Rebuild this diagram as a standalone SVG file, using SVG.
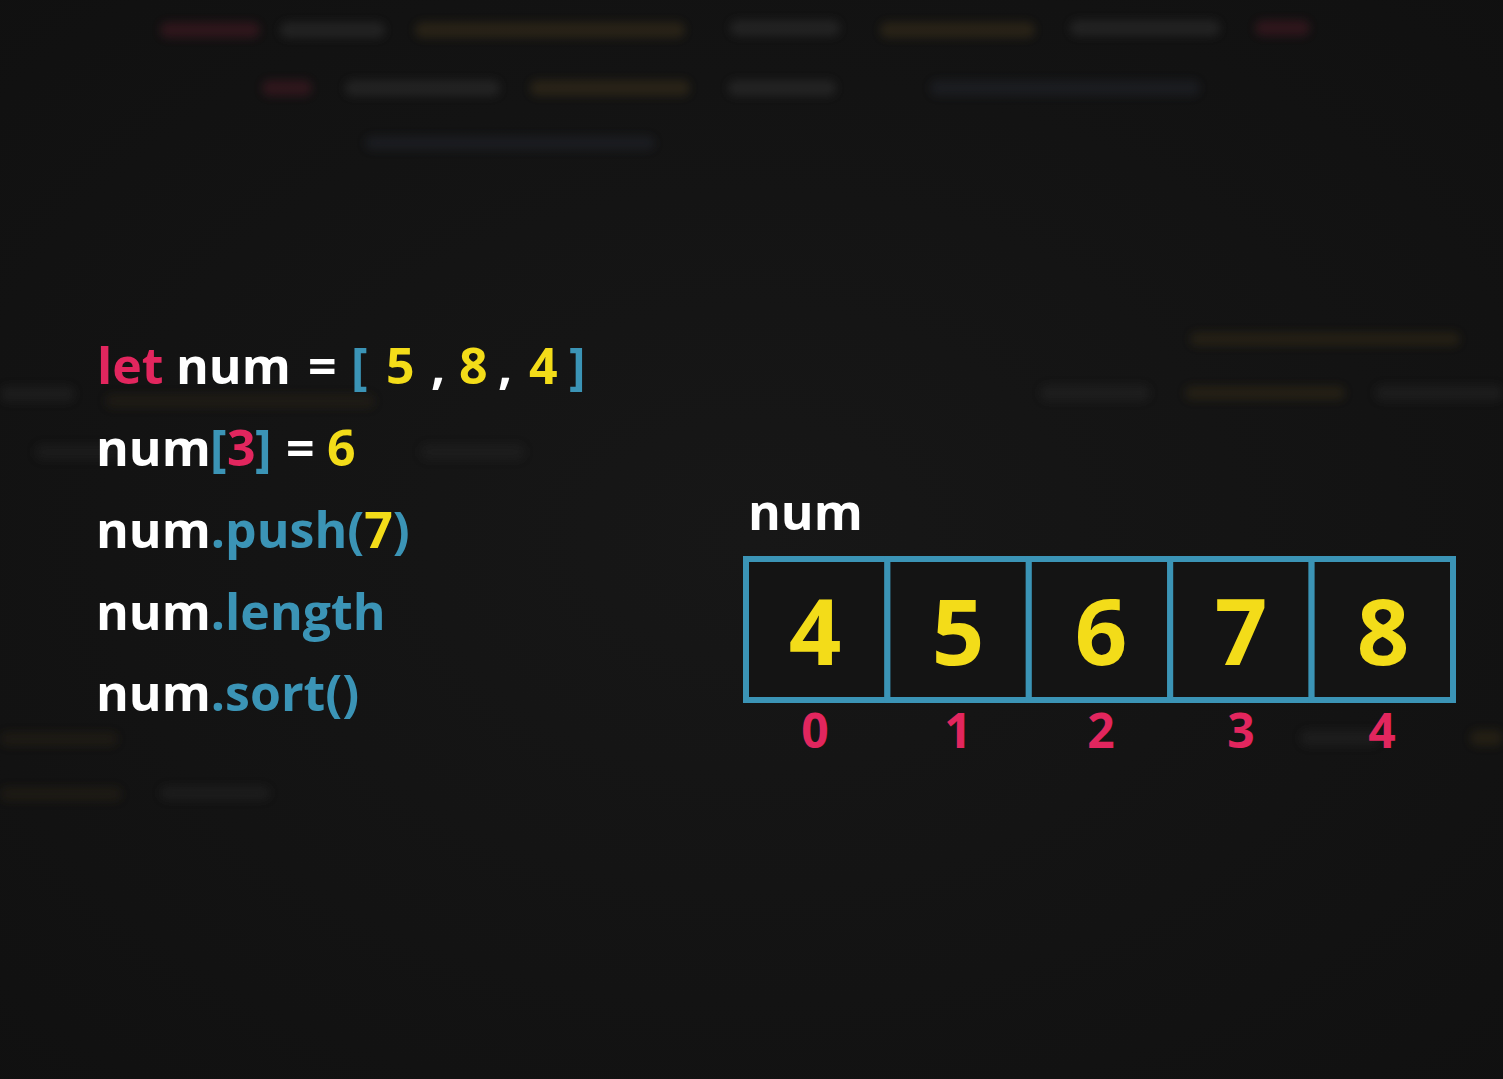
<svg xmlns="http://www.w3.org/2000/svg" width="1503" height="1079" viewBox="0 0 1503 1079">
<defs>
<style>
.code{font-family:"Open Sans","Noto Sans","Liberation Sans",sans-serif;font-weight:700;font-size:50px}
.w{fill:#ffffff}.r{fill:#e2265e}.y{fill:#f3dc19}.b{fill:#3b94b6}
.cell{fill:#141414;stroke:#3b94b6;stroke-width:6}
.val{font-family:"Open Sans","Noto Sans","Liberation Sans",sans-serif;font-weight:700;font-size:92px;fill:#f3dc19;text-anchor:middle}
.idx{font-family:"Open Sans","Noto Sans","Liberation Sans",sans-serif;font-weight:700;font-size:48px;fill:#e2265e;text-anchor:middle}
.bg rect{rx:8px}
</style>
<filter id="blur" x="-20%" y="-100%" width="140%" height="300%"><feGaussianBlur stdDeviation="4"/></filter>
<radialGradient id="vig" cx="50%" cy="50%" r="75%">
<stop offset="0" stop-color="#171717"/><stop offset="1" stop-color="#101010"/>
</radialGradient>
</defs>
<rect width="1503" height="1079" fill="url(#vig)"/>
<g class="bg" filter="url(#blur)" opacity="0.4">
<rect x="160" y="22" width="100" height="16" fill="#5a1f2c"/>
<rect x="280" y="22" width="105" height="16" fill="#3a3a3a"/>
<rect x="415" y="22" width="270" height="16" fill="#4a3a1c"/>
<rect x="730" y="20" width="110" height="16" fill="#3a3a3a"/>
<rect x="880" y="22" width="155" height="16" fill="#4a3a1c"/>
<rect x="1070" y="20" width="150" height="16" fill="#3a3a3a"/>
<rect x="1255" y="20" width="55" height="16" fill="#5a1f2c"/>
<rect x="262" y="80" width="50" height="16" fill="#5a1f2c"/>
<rect x="345" y="80" width="155" height="16" fill="#3a3a3a"/>
<rect x="530" y="80" width="160" height="16" fill="#4a3a1c"/>
<rect x="728" y="80" width="108" height="16" fill="#3a3a3a"/>
<rect x="930" y="80" width="270" height="16" fill="#262a36"/>
<rect x="365" y="136" width="290" height="14" fill="#262a36"/>
<rect x="1190" y="332" width="270" height="14" fill="#3e3218"/>
<rect x="1040" y="385" width="110" height="16" fill="#2a2a2a"/>
<rect x="1185" y="386" width="160" height="14" fill="#3e3218"/>
<rect x="1375" y="385" width="128" height="16" fill="#2a2a2a"/>
<rect x="0" y="386" width="75" height="16" fill="#2a2a2a"/>
<rect x="105" y="394" width="270" height="14" fill="#2e2616"/>
<rect x="35" y="444" width="85" height="16" fill="#262626"/>
<rect x="420" y="444" width="105" height="16" fill="#262626"/>
<rect x="1300" y="730" width="80" height="16" fill="#2a2a2a"/>
<rect x="1470" y="730" width="33" height="16" fill="#3e3218"/>
<rect x="0" y="732" width="118" height="14" fill="#2e2616"/>
<rect x="0" y="787" width="122" height="14" fill="#2e2616"/>
<rect x="160" y="786" width="110" height="14" fill="#2a2a2a"/>
</g>
<g id="code">
<text class="code" y="384"><tspan class="r" x="97">let</tspan><tspan class="w" x="176">num</tspan><tspan class="w" x="308">=</tspan><tspan class="b" x="351">[</tspan><tspan class="y" x="386">5</tspan><tspan class="w" x="431">,</tspan><tspan class="y" x="459">8</tspan><tspan class="w" x="498">,</tspan><tspan class="y" x="529">4</tspan><tspan class="b" x="569">]</tspan></text>
<text class="code" y="466"><tspan class="w" x="96">num</tspan><tspan class="b" x="210">[</tspan><tspan class="r" x="227">3</tspan><tspan class="b" x="255">]</tspan><tspan class="w" x="286">=</tspan><tspan class="y" x="327">6</tspan></text>
<text class="code" x="96" y="548"><tspan class="w">num</tspan><tspan class="b">.push(</tspan><tspan class="y">7</tspan><tspan class="b">)</tspan></text>
<text class="code" x="96" y="630"><tspan class="w">num</tspan><tspan class="b">.length</tspan></text>
<text class="code" x="96" y="711"><tspan class="w">num</tspan><tspan class="b">.sort()</tspan></text>
</g>
<g id="array">
<text class="code w" x="748" y="530">num</text>
<g id="cell0"><rect class="cell" x="746" y="559" width="141.4" height="141"/><text class="val" x="815" y="665">4</text><text class="idx" x="815" y="748">0</text></g>
<g id="cell1"><rect class="cell" x="887.4" y="559" width="141.4" height="141"/><text class="val" x="958" y="665">5</text><text class="idx" x="958" y="748">1</text></g>
<g id="cell2"><rect class="cell" x="1028.8" y="559" width="141.4" height="141"/><text class="val" x="1101" y="665">6</text><text class="idx" x="1101" y="748">2</text></g>
<g id="cell3"><rect class="cell" x="1170.2" y="559" width="141.4" height="141"/><text class="val" x="1241" y="665">7</text><text class="idx" x="1241" y="748">3</text></g>
<g id="cell4"><rect class="cell" x="1311.6" y="559" width="141.4" height="141"/><text class="val" x="1383" y="665">8</text><text class="idx" x="1382" y="748">4</text></g>
</g>
<g id="connectors"/>
</svg>
